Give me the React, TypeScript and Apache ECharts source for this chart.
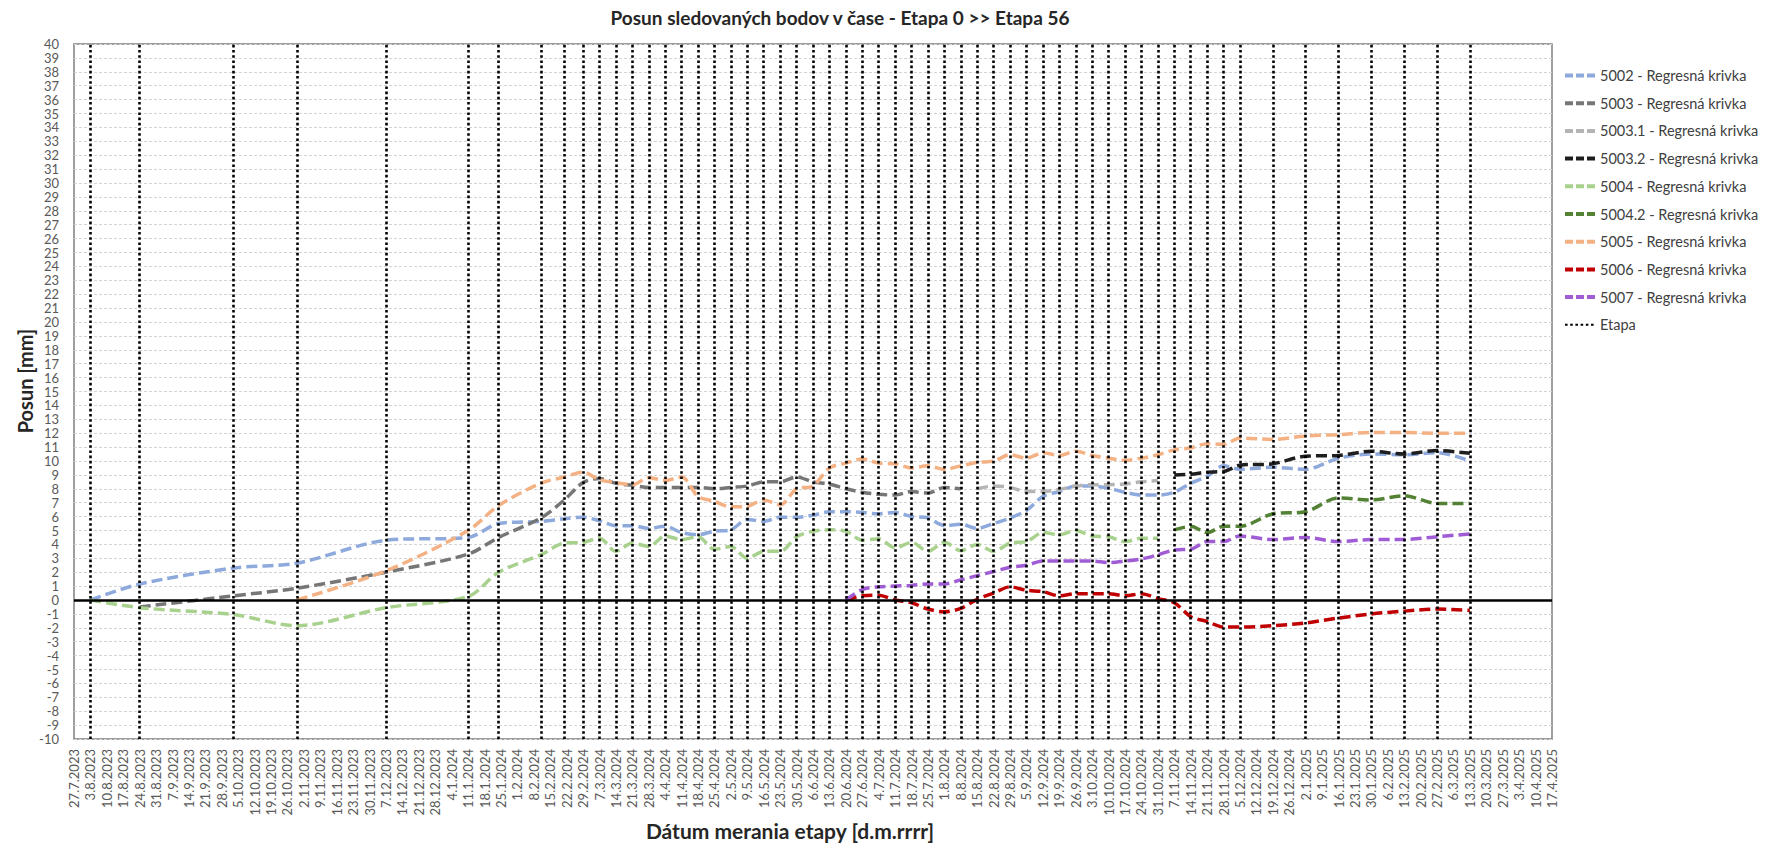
import React, { useEffect, useRef } from "react";
import * as echarts from "echarts";

// ---- DATA ----
const etapaDates = [
  "3.8.2023", "24.8.2023", "3.10.2023", "30.10.2023", "7.12.2023", "11.1.2024", "24.1.2024", "11.2.2024",
  "21.2.2024", "29.2.2024", "7.3.2024", "14.3.2024", "21.3.2024", "28.3.2024", "4.4.2024", "11.4.2024",
  "18.4.2024", "25.4.2024", "2.5.2024", "9.5.2024", "16.5.2024", "23.5.2024", "30.5.2024", "6.6.2024",
  "13.6.2024", "20.6.2024", "27.6.2024", "4.7.2024", "11.7.2024", "18.7.2024", "25.7.2024", "1.8.2024",
  "8.8.2024", "15.8.2024", "22.8.2024", "29.8.2024", "5.9.2024", "12.9.2024", "19.9.2024", "26.9.2024",
  "3.10.2024", "10.10.2024", "17.10.2024", "24.10.2024", "31.10.2024", "7.11.2024", "14.11.2024", "21.11.2024",
  "28.11.2024", "5.12.2024", "19.12.2024", "2.1.2025", "16.1.2025", "30.1.2025", "13.2.2025", "27.2.2025",
  "13.3.2025",
];

const _ = null;

const s5002 = [
  0, 1.15, 2.3, 2.65, 4.3, 4.5, 5.5, 5.65, 5.85, 5.95,
  5.7, 5.35, 5.35, 5.15, 5.3, 4.85, 4.7, 4.95, 5.05, 5.8,
  5.65, 5.95, 5.95, 6.1, 6.35, 6.35, 6.3, 6.2, 6.3, 6.0,
  5.9, 5.35, 5.45, 5.15, 5.5, 5.9, 6.45, 7.45, 7.8, 8.2,
  8.2, 8.05, 7.75, 7.55, 7.55, 7.75, 8.4, 8.9, 9.65, 9.4,
  9.55, 9.4, 10.2, 10.5, 10.45, 10.6, 10.0,
];

const s5003 = [
  _, -0.5, 0.3, 0.85, 2.0, 3.3, 4.5, 5.9, 7.2, 8.45,
  8.75, 8.4, 8.25, 8.1, 8.1, 8.1, 8.1, 8.0, 8.1, 8.2,
  8.5, 8.5, 8.85, 8.5, 8.35, 8.0, 7.75, 7.6, 7.55, 7.8,
  7.7, 8.1, 8.0, _, _, _, _, _, _, _,
  _, _, _, _, _, _, _, _, _, _,
  _, _, _, _, _, _, _,
];

const s5003_1 = [
  _, _, _, _, _, _, _, _, _, _,
  _, _, _, _, _, _, _, _, _, _,
  _, _, _, _, _, _, _, _, _, _,
  _, _, _, 8.0, 8.2, 8.1, 7.8, 7.8, 7.95, 8.2,
  8.3, 8.3, 8.35, 8.5, 8.6, _, _, _, _, _,
  _, _, _, _, _, _, _,
];

const s5003_2 = [
  _, _, _, _, _, _, _, _, _, _,
  _, _, _, _, _, _, _, _, _, _,
  _, _, _, _, _, _, _, _, _, _,
  _, _, _, _, _, _, _, _, _, _,
  _, _, _, _, _, 9.0, 9.05, 9.2, 9.25, 9.7,
  9.8, 10.35, 10.4, 10.7, 10.5, 10.75, 10.55,
];

const s5004 = [
  0, -0.55, -1.05, -1.85, -0.55, 0.25, 2.0, 3.25, 4.1, 4.15,
  4.45, 3.5, 4.1, 3.85, 4.6, 4.35, 4.55, 3.65, 3.85, 3.0,
  3.5, 3.5, 4.55, 4.95, 5.05, 4.95, 4.3, 4.4, 3.75, 4.15,
  3.5, 4.15, 3.55, 4.0, 3.5, 4.1, 4.2, 4.85, 4.7, 5.0,
  4.6, 4.55, 4.2, 4.45, 4.45, _, _, _, _, _,
  _, _, _, _, _, _, _,
];

const s5004_2 = [
  _, _, _, _, _, _, _, _, _, _,
  _, _, _, _, _, _, _, _, _, _,
  _, _, _, _, _, _, _, _, _, _,
  _, _, _, _, _, _, _, _, _, _,
  _, _, _, _, _, 5.05, 5.3, 4.85, 5.3, 5.3,
  6.2, 6.35, 7.35, 7.2, 7.5, 6.95, 6.95,
];

const s5005 = [
  _, _, _, 0, 2.1, 5.0, 6.8, 8.4, 8.85, 9.2,
  8.65, 8.45, 8.3, 8.8, 8.6, 8.85, 7.45, 7.1, 6.7, 6.75,
  7.2, 6.85, 8.0, 8.2, 9.5, 9.85, 10.15, 9.85, 9.8, 9.5,
  9.65, 9.4, 9.65, 9.9, 10.0, 10.45, 10.2, 10.6, 10.4, 10.7,
  10.4, 10.2, 10.05, 10.2, 10.45, 10.8, 10.95, 11.25, 11.2, 11.65,
  11.55, 11.8, 11.9, 12.05, 12.05, 12.0, 12.0,
];

const s5006 = [
  _, _, _, _, _, _, _, _, _, _,
  _, _, _, _, _, _, _, _, _, _,
  _, _, _, _, _, 0, 0.3, 0.35, 0, -0.2,
  -0.65, -0.85, -0.6, 0.05, 0.5, 0.95, 0.7, 0.6, 0.3, 0.45,
  0.45, 0.45, 0.3, 0.45, 0.1, -0.2, -1.2, -1.55, -1.95, -1.95,
  -1.85, -1.65, -1.3, -1.0, -0.8, -0.65, -0.75,
];

const s5007 = [
  _, _, _, _, _, _, _, _, _, _,
  _, _, _, _, _, _, _, _, _, _,
  _, _, _, _, _, 0, 0.75, 0.95, 1.0, 1.05,
  1.15, 1.15, 1.45, 1.75, 2.05, 2.35, 2.5, 2.8, 2.8, 2.8,
  2.8, 2.7, 2.8, 2.95, 3.25, 3.6, 3.65, 4.2, 4.2, 4.6,
  4.35, 4.5, 4.2, 4.35, 4.35, 4.55, 4.75,
];

const seriesNames = [
  "5002 - Regresná krivka",
  "5003 - Regresná krivka",
  "5003.1 - Regresná krivka",
  "5003.2 - Regresná krivka",
  "5004 - Regresná krivka",
  "5004.2 - Regresná krivka",
  "5005 - Regresná krivka",
  "5006 - Regresná krivka",
  "5007 - Regresná krivka",
];
const seriesValues = [s5002, s5003, s5003_1, s5003_2, s5004, s5004_2, s5005, s5006, s5007];
const seriesColors = [
  "#8EA9DB", "#767676", "#B4B4B4", "#1E1E1E", "#A9D18E", "#548235", "#F4B183", "#C00000", "#A05CD5",
];

const axisStartDate = "27.7.2023";
const axisEndDate = "17.4.2025";
const yMin = -10;
const yMax = 40;

const chartTitle = "Posun sledovaných bodov v čase - Etapa 0 >> Etapa 56";
const yTitle = "Posun [mm]";
const xTitle = "Dátum merania etapy [d.m.rrrr]";
const etapaName = "Etapa";

// ---- helpers ----
const DAY = 86400000;
function parseDate(s: string): number {
  const [d, m, y] = s.split(".").map(Number);
  return Date.UTC(y, m - 1, d);
}
const T0 = parseDate(axisStartDate);
function toDay(s: string): number {
  return Math.round((parseDate(s) - T0) / DAY);
}
function dayLabel(v: number): string {
  const dt = new Date(T0 + Math.round(v) * DAY);
  return `${dt.getUTCDate()}.${dt.getUTCMonth() + 1}.${dt.getUTCFullYear()}`;
}

const FONT = "Lato, 'Open Sans', sans-serif";
const DOT = [2.6, 2.6];

export default function App() {
  const ref = useRef<HTMLDivElement>(null);

  useEffect(() => {
    if (!ref.current) return;
    const chart = echarts.init(ref.current, null, { renderer: "svg" });
    const etapaDays = etapaDates.map(toDay);
    const maxDay = toDay(axisEndDate);

    const dataSeries = seriesNames.map((name, si) => ({
      name,
      type: "line",
      smooth: 0.3,
      symbol: "none",
      showSymbol: false,
      z: 3,
      data: etapaDays
        .map((d, i) => (seriesValues[si][i] == null ? null : [d, seriesValues[si][i]]))
        .filter((p) => p !== null),
      lineStyle: { color: seriesColors[si], width: 3.5, type: [11, 5], cap: "butt" },
      itemStyle: { color: seriesColors[si] },
    }));

    const etapaSeries = {
      name: etapaName,
      type: "line",
      symbol: "none",
      showSymbol: false,
      data: [],
      z: 4,
      lineStyle: { color: "#000", width: 2.6, type: DOT },
      itemStyle: { color: "#000" },
      markLine: {
        silent: true,
        symbol: ["none", "none"],
        animation: false,
        label: { show: false },
        emphasis: { disabled: true },
        lineStyle: { color: "#000", width: 2.6, type: DOT },
        data: etapaDays.map((d) => ({ xAxis: d })),
      },
    };

    const zeroSeries = {
      name: "zero",
      type: "line",
      data: [],
      z: 2,
      markLine: {
        silent: true,
        symbol: ["none", "none"],
        label: { show: false },
        emphasis: { disabled: true },
        lineStyle: { color: "#000", width: 2.5, type: "solid" },
        data: [{ yAxis: 0 }],
      },
    };

    chart.setOption({
      animation: false,
      backgroundColor: "#fff",
      textStyle: { fontFamily: FONT },
      grid: {
        left: 74,
        right: 223,
        top: 44,
        bottom: 110,
        show: true,
        borderColor: "#7F7F7F",
        borderWidth: 1.5,
        containLabel: false,
      },
      legend: {
        orient: "vertical",
        left: 1558,
        top: 63,
        itemWidth: 30,
        itemHeight: 14,
        itemGap: 12.7,
        data: [
          ...seriesNames.map((n, si) => ({
            name: n,
            lineStyle: { color: seriesColors[si], width: 4, type: [8, 3] },
          })),
          { name: etapaName },
        ],
        itemStyle: { opacity: 0 },
        textStyle: { fontFamily: FONT, fontSize: 14.5, color: "#404040" },
      },
      xAxis: {
        type: "value",
        min: 0,
        max: maxDay,
        interval: 7,
        axisLine: { show: false },
        axisTick: { show: false },
        splitLine: { show: false },
        axisLabel: {
          rotate: 90,
          fontSize: 13,
          color: "#595959",
          margin: 10,
          showMinLabel: true,
          showMaxLabel: true,
          formatter: (v: number) => dayLabel(v),
        },
      },
      yAxis: {
        type: "value",
        min: yMin,
        max: yMax,
        interval: 1,
        axisLine: { show: false },
        axisTick: { show: false },
        axisLabel: { fontSize: 13, color: "#595959", margin: 15 },
        splitLine: { show: true, lineStyle: { color: "#D4D4D4", width: 1, type: [3, 2] } },
      },
      graphic: [
        {
          type: "text",
          x: 840,
          y: 17,
          style: {
            text: chartTitle,
            font: `bold 19px ${FONT}`,
            fill: "#262626",
            textAlign: "center",
            textVerticalAlign: "middle",
          },
        },
        {
          type: "text",
          x: 25,
          y: 381,
          rotation: Math.PI / 2,
          style: {
            text: yTitle,
            font: `bold 20px ${FONT}`,
            fill: "#262626",
            textAlign: "center",
            textVerticalAlign: "middle",
          },
        },
        {
          type: "text",
          x: 790,
          y: 830,
          style: {
            text: xTitle,
            font: `bold 21px ${FONT}`,
            fill: "#262626",
            textAlign: "center",
            textVerticalAlign: "middle",
          },
        },
      ],
      series: [zeroSeries, ...dataSeries, etapaSeries],
    });

    return () => chart.dispose();
  }, []);

  return (
    <div
      ref={ref}
      style={{ position: "fixed", left: 0, top: 0, width: 1775, height: 849, background: "#fff" }}
    />
  );
}
